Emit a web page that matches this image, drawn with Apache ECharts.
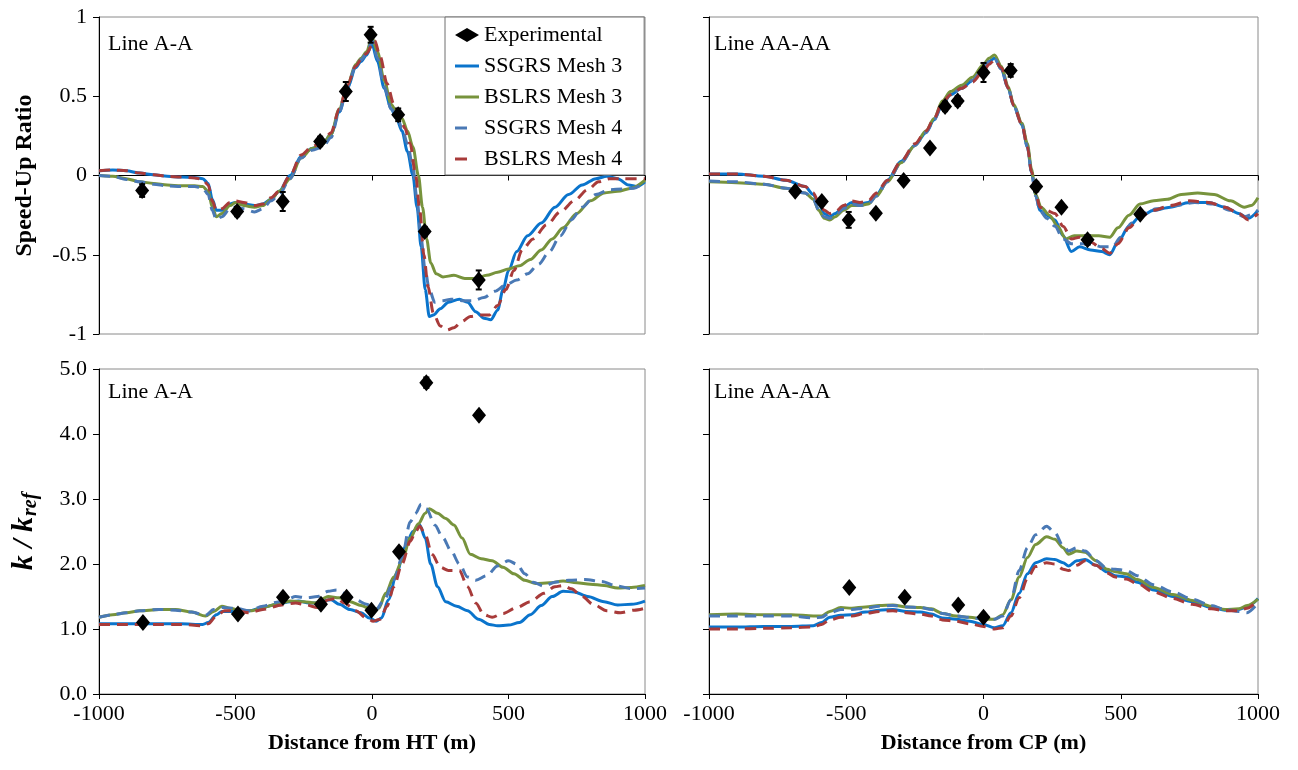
<!doctype html>
<html>
<head>
<meta charset="utf-8">
<title>Speed-up ratio and k/kref</title>
<script src="https://cdn.jsdelivr.net/npm/echarts@6/dist/echarts.min.js"></script>
<style>
  html, body { margin: 0; padding: 0; background: #fff; }
  #main { width: 1298px; height: 770px; }
</style>
</head>
<body>
<div id="main"></div>
<script>
// ---- data: Line A-A speed-up ratio ----
var topA_exp = [[-842,-0.095],[-494,-0.227],[-327,-0.164],[-190,0.215],[-96,0.53],[-5,0.888],[96,0.383],[193,-0.354],[391,-0.659]];
var topA_err = [0.04,0.03,0.06,0.03,0.06,0.05,0.04,0.03,0.06];
var topA_ssg3 = [[-1000,0.03],[-950,0.035],[-900,0.03],[-850,0.015],[-800,0.005],[-750,-0.005],[-700,-0.01],[-650,-0.012],[-620,-0.02],[-600,-0.05],[-585,-0.15],[-570,-0.22],[-550,-0.22],[-520,-0.18],[-500,-0.17],[-470,-0.18],[-430,-0.19],[-400,-0.18],[-370,-0.15],[-340,-0.1],[-300,0.0],[-260,0.12],[-220,0.17],[-180,0.2],[-150,0.26],[-120,0.4],[-90,0.55],[-60,0.68],[-40,0.72],[-20,0.76],[0,0.83],[20,0.72],[45,0.55],[70,0.42],[90,0.36],[110,0.28],[130,0.15],[150,0.0],[165,-0.2],[180,-0.45],[195,-0.72],[210,-0.89],[225,-0.88],[250,-0.84],[280,-0.8],[320,-0.78],[350,-0.8],[380,-0.86],[410,-0.9],[435,-0.91],[460,-0.85],[480,-0.72],[500,-0.6],[530,-0.48],[570,-0.38],[620,-0.3],[670,-0.2],[720,-0.12],[770,-0.06],[820,-0.02],[860,-0.005],[900,-0.02],[940,-0.06],[970,-0.07],[1000,-0.04]];
var topA_bsl3 = [[-1000,0.0],[-950,-0.005],[-900,-0.02],[-850,-0.04],[-800,-0.05],[-750,-0.06],[-700,-0.065],[-650,-0.065],[-620,-0.07],[-600,-0.1],[-585,-0.2],[-570,-0.26],[-550,-0.24],[-520,-0.19],[-500,-0.17],[-470,-0.19],[-430,-0.2],[-400,-0.19],[-370,-0.15],[-340,-0.1],[-300,-0.02],[-260,0.11],[-220,0.17],[-180,0.2],[-150,0.26],[-120,0.42],[-90,0.57],[-60,0.7],[-40,0.74],[-20,0.78],[0,0.87],[20,0.78],[45,0.6],[70,0.45],[90,0.4],[110,0.36],[130,0.28],[150,0.18],[170,0.0],[185,-0.2],[200,-0.4],[215,-0.55],[235,-0.62],[260,-0.64],[300,-0.63],[340,-0.65],[380,-0.65],[420,-0.63],[460,-0.61],[500,-0.59],[540,-0.57],[580,-0.53],[620,-0.47],[660,-0.4],[700,-0.33],[750,-0.24],[800,-0.16],[850,-0.11],[900,-0.1],[950,-0.08],[1000,-0.03]];
var topA_ssg4 = [[-1000,0.0],[-950,-0.005],[-900,-0.025],[-850,-0.04],[-800,-0.055],[-750,-0.065],[-700,-0.07],[-650,-0.07],[-620,-0.08],[-600,-0.12],[-585,-0.22],[-570,-0.28],[-550,-0.26],[-520,-0.21],[-500,-0.2],[-470,-0.21],[-430,-0.23],[-400,-0.21],[-370,-0.16],[-340,-0.12],[-300,-0.02],[-260,0.11],[-220,0.16],[-180,0.18],[-150,0.24],[-120,0.4],[-90,0.56],[-60,0.69],[-40,0.73],[-20,0.77],[0,0.85],[20,0.74],[45,0.56],[70,0.42],[90,0.38],[110,0.3],[130,0.2],[150,0.05],[165,-0.15],[180,-0.4],[195,-0.6],[210,-0.72],[230,-0.8],[260,-0.79],[290,-0.78],[330,-0.79],[370,-0.79],[410,-0.77],[450,-0.73],[490,-0.69],[530,-0.66],[570,-0.62],[610,-0.56],[650,-0.48],[690,-0.38],[730,-0.28],[770,-0.2],[820,-0.12],[870,-0.09],[920,-0.085],[960,-0.08],[1000,-0.04]];
var topA_bsl4 = [[-1000,0.03],[-950,0.035],[-900,0.03],[-850,0.015],[-800,0.005],[-750,-0.005],[-700,-0.01],[-650,-0.015],[-620,-0.025],[-600,-0.06],[-585,-0.16],[-570,-0.22],[-550,-0.21],[-520,-0.17],[-500,-0.16],[-470,-0.17],[-430,-0.19],[-400,-0.18],[-370,-0.14],[-340,-0.1],[-300,0.0],[-260,0.13],[-220,0.18],[-180,0.22],[-150,0.27],[-120,0.42],[-90,0.57],[-60,0.69],[-40,0.73],[-20,0.77],[0,0.82],[10,0.85],[30,0.75],[55,0.58],[80,0.45],[100,0.4],[120,0.3],[140,0.2],[160,0.0],[175,-0.22],[190,-0.5],[205,-0.7],[225,-0.87],[250,-0.95],[275,-0.975],[300,-0.96],[330,-0.92],[360,-0.89],[400,-0.88],[430,-0.88],[460,-0.82],[490,-0.72],[520,-0.6],[550,-0.47],[590,-0.4],[640,-0.31],[690,-0.23],[740,-0.16],[790,-0.09],[830,-0.04],[870,-0.02],[920,-0.02],[1000,-0.02]];

// ---- data: Line AA-AA speed-up ratio ----
var topAA_exp = [[-686,-0.10],[-589,-0.164],[-491,-0.28],[-392,-0.238],[-291,-0.032],[-195,0.173],[-140,0.436],[-94,0.47],[0,0.65],[99,0.663],[192,-0.07],[284,-0.2],[379,-0.406],[571,-0.244]];
var topAA_err = [0.02,0.02,0.05,0.02,0.02,0.02,0.03,0.03,0.06,0.04,0.03,0.02,0.03,0.02];
var topAA_ssg3 = [[-1000,0.01],[-900,0.01],[-800,-0.005],[-720,-0.03],[-650,-0.07],[-620,-0.12],[-600,-0.18],[-580,-0.24],[-560,-0.26],[-540,-0.24],[-510,-0.2],[-480,-0.17],[-450,-0.18],[-420,-0.17],[-390,-0.12],[-350,-0.03],[-300,0.09],[-250,0.19],[-210,0.27],[-180,0.35],[-150,0.45],[-120,0.51],[-80,0.55],[-40,0.6],[0,0.68],[20,0.72],[40,0.74],[65,0.67],[90,0.55],[110,0.44],[140,0.32],[160,0.18],[175,0.02],[190,-0.12],[205,-0.22],[230,-0.25],[260,-0.28],[290,-0.38],[320,-0.48],[350,-0.45],[390,-0.47],[430,-0.48],[460,-0.5],[490,-0.42],[530,-0.32],[570,-0.26],[620,-0.22],[680,-0.2],[750,-0.17],[820,-0.17],[880,-0.2],[930,-0.24],[965,-0.27],[1000,-0.22]];
var topAA_bsl3 = [[-1000,-0.04],[-900,-0.045],[-800,-0.055],[-720,-0.08],[-650,-0.11],[-620,-0.15],[-600,-0.22],[-580,-0.27],[-560,-0.28],[-540,-0.26],[-510,-0.22],[-480,-0.19],[-450,-0.19],[-420,-0.18],[-390,-0.13],[-350,-0.04],[-300,0.08],[-250,0.19],[-210,0.28],[-180,0.36],[-150,0.47],[-120,0.53],[-80,0.57],[-40,0.62],[0,0.7],[20,0.74],[40,0.76],[65,0.69],[90,0.56],[110,0.45],[140,0.33],[160,0.2],[175,0.04],[190,-0.12],[210,-0.2],[240,-0.25],[270,-0.32],[300,-0.4],[330,-0.38],[370,-0.38],[420,-0.38],[460,-0.39],[490,-0.33],[530,-0.25],[570,-0.18],[620,-0.16],[670,-0.15],[720,-0.12],[780,-0.11],[840,-0.12],[900,-0.16],[950,-0.2],[975,-0.19],[1000,-0.14]];
var topAA_ssg4 = [[-1000,-0.035],[-900,-0.04],[-800,-0.055],[-720,-0.08],[-650,-0.11],[-620,-0.15],[-600,-0.22],[-580,-0.26],[-560,-0.27],[-540,-0.25],[-510,-0.21],[-480,-0.18],[-450,-0.19],[-420,-0.18],[-390,-0.13],[-350,-0.04],[-300,0.08],[-250,0.19],[-210,0.27],[-180,0.35],[-150,0.45],[-120,0.51],[-80,0.55],[-40,0.6],[0,0.68],[20,0.72],[40,0.74],[65,0.67],[90,0.55],[110,0.44],[140,0.32],[160,0.18],[175,0.02],[190,-0.13],[205,-0.22],[230,-0.27],[260,-0.32],[290,-0.4],[320,-0.43],[350,-0.43],[390,-0.43],[430,-0.45],[470,-0.45],[500,-0.39],[540,-0.3],[580,-0.24],[630,-0.21],[700,-0.19],[770,-0.17],[840,-0.18],[900,-0.22],[950,-0.26],[1000,-0.22]];
var topAA_bsl4 = [[-1000,0.01],[-900,0.01],[-800,-0.005],[-720,-0.03],[-650,-0.07],[-620,-0.11],[-600,-0.17],[-580,-0.22],[-560,-0.24],[-540,-0.23],[-510,-0.19],[-480,-0.16],[-450,-0.17],[-420,-0.16],[-390,-0.11],[-350,-0.03],[-300,0.09],[-250,0.2],[-210,0.28],[-180,0.36],[-150,0.46],[-120,0.51],[-80,0.55],[-40,0.59],[0,0.66],[20,0.7],[40,0.73],[65,0.68],[90,0.55],[110,0.44],[140,0.32],[160,0.18],[175,0.02],[190,-0.1],[205,-0.2],[230,-0.22],[260,-0.24],[290,-0.32],[320,-0.4],[350,-0.39],[390,-0.42],[430,-0.46],[460,-0.49],[490,-0.43],[530,-0.33],[570,-0.26],[620,-0.22],[680,-0.19],[750,-0.16],[820,-0.17],[880,-0.2],[930,-0.24],[965,-0.28],[1000,-0.24]];

// ---- data: Line A-A k/kref ----
var botA_exp = [[-839,1.10],[-491,1.23],[-326,1.49],[-187,1.38],[-93,1.49],[-2,1.29],[99,2.19],[199,4.79],[392,4.29]];
var botA_err = [0.05,0.04,0.04,0.03,0.05,0.04,0.03,0.08,0.06];
var botA_ssg3 = [[-1000,1.08],[-900,1.08],[-800,1.08],[-700,1.08],[-620,1.07],[-600,1.1],[-570,1.22],[-550,1.27],[-500,1.27],[-450,1.28],[-400,1.33],[-350,1.38],[-300,1.42],[-270,1.43],[-230,1.4],[-200,1.4],[-170,1.44],[-150,1.45],[-120,1.38],[-80,1.3],[-40,1.25],[-10,1.17],[15,1.12],[35,1.17],[60,1.45],[90,1.85],[120,2.25],[150,2.5],[175,2.6],[195,2.4],[215,2.0],[240,1.65],[270,1.42],[310,1.35],[350,1.28],[390,1.15],[430,1.07],[460,1.05],[500,1.06],[540,1.1],[580,1.22],[620,1.36],[660,1.5],[700,1.58],[740,1.57],[790,1.5],[850,1.42],[900,1.37],[950,1.38],[1000,1.43]];
var botA_bsl3 = [[-1000,1.18],[-950,1.22],[-900,1.25],[-850,1.28],[-780,1.3],[-720,1.3],[-660,1.26],[-610,1.2],[-580,1.27],[-550,1.35],[-520,1.32],[-480,1.28],[-440,1.28],[-400,1.33],[-350,1.38],[-300,1.43],[-250,1.42],[-210,1.4],[-160,1.5],[-120,1.48],[-80,1.42],[-40,1.36],[0,1.3],[25,1.32],[50,1.55],[80,1.8],[110,2.05],[140,2.4],[170,2.62],[195,2.78],[210,2.85],[240,2.78],[270,2.7],[300,2.6],[330,2.4],[360,2.15],[400,2.08],[440,2.05],[480,1.95],[520,1.85],[560,1.75],[600,1.7],[650,1.71],[700,1.74],[750,1.71],[800,1.69],[850,1.67],[900,1.63],[950,1.64],[1000,1.67]];
var botA_ssg4 = [[-1000,1.18],[-950,1.22],[-900,1.25],[-850,1.28],[-780,1.3],[-720,1.29],[-660,1.26],[-610,1.21],[-580,1.3],[-550,1.33],[-500,1.32],[-450,1.28],[-400,1.35],[-350,1.41],[-310,1.46],[-280,1.5],[-240,1.48],[-200,1.5],[-160,1.58],[-130,1.6],[-100,1.55],[-60,1.45],[-20,1.38],[15,1.3],[45,1.45],[80,1.75],[110,2.1],[140,2.65],[160,2.78],[180,2.92],[200,2.85],[230,2.6],[260,2.4],[290,2.2],[320,2.0],[350,1.8],[380,1.75],[420,1.82],[460,1.97],[500,2.05],[530,2.0],[560,1.85],[590,1.72],[630,1.66],[670,1.72],[720,1.75],[780,1.76],[840,1.73],[900,1.66],[950,1.62],[1000,1.63]];
var botA_bsl4 = [[-1000,1.07],[-900,1.07],[-800,1.07],[-700,1.07],[-620,1.05],[-600,1.08],[-570,1.2],[-540,1.28],[-500,1.28],[-450,1.25],[-400,1.3],[-330,1.37],[-280,1.4],[-240,1.37],[-200,1.33],[-160,1.45],[-130,1.47],[-100,1.4],[-60,1.28],[-20,1.17],[5,1.12],[30,1.15],[55,1.35],[80,1.65],[110,2.0],[140,2.35],[160,2.5],[175,2.58],[195,2.45],[220,2.15],[250,1.95],[280,1.9],[320,1.9],[350,1.65],[380,1.4],[410,1.22],[440,1.18],[480,1.24],[530,1.33],[580,1.42],[630,1.55],[670,1.65],[700,1.67],[730,1.62],[770,1.5],[810,1.38],[860,1.28],[910,1.25],[960,1.29],[1000,1.32]];

// ---- data: Line AA-AA k/kref ----
var botAA_exp = [[-489,1.64],[-287,1.49],[-92,1.37],[0,1.18]];
var botAA_err = [0.03,0.03,0.03,0.03];
var botAA_ssg3 = [[-1000,1.03],[-900,1.03],[-800,1.04],[-700,1.04],[-620,1.05],[-590,1.1],[-560,1.18],[-520,1.21],[-480,1.22],[-430,1.26],[-380,1.29],[-330,1.3],[-280,1.27],[-230,1.26],[-190,1.23],[-150,1.17],[-100,1.15],[-50,1.12],[0,1.07],[40,1.02],[70,1.05],[100,1.25],[130,1.55],[160,1.85],[190,2.02],[230,2.08],[260,2.07],[290,2.02],[310,1.97],[340,2.05],[370,2.07],[410,1.98],[450,1.88],[480,1.82],[520,1.8],[560,1.72],[620,1.6],[690,1.5],[760,1.42],[830,1.33],[880,1.29],[930,1.3],[960,1.34],[1000,1.47]];
var botAA_bsl3 = [[-1000,1.22],[-900,1.23],[-800,1.22],[-700,1.22],[-620,1.2],[-590,1.2],[-560,1.27],[-520,1.33],[-480,1.32],[-430,1.34],[-380,1.36],[-330,1.37],[-280,1.34],[-230,1.33],[-190,1.31],[-150,1.24],[-100,1.2],[-50,1.18],[0,1.15],[40,1.15],[70,1.22],[100,1.45],[130,1.8],[160,2.1],[190,2.3],[230,2.42],[260,2.38],[290,2.25],[310,2.15],[340,2.2],[370,2.18],[410,2.05],[450,1.92],[480,1.88],[520,1.85],[560,1.76],[620,1.64],[690,1.53],[760,1.44],[830,1.35],[880,1.3],[930,1.31],[960,1.36],[1000,1.46]];
var botAA_ssg4 = [[-1000,1.2],[-900,1.2],[-800,1.2],[-700,1.2],[-620,1.17],[-590,1.18],[-560,1.25],[-520,1.3],[-480,1.3],[-430,1.32],[-380,1.35],[-330,1.36],[-280,1.34],[-230,1.33],[-190,1.3],[-150,1.24],[-100,1.2],[-50,1.18],[0,1.15],[40,1.15],[70,1.2],[100,1.45],[130,1.9],[160,2.25],[190,2.45],[230,2.58],[260,2.48],[290,2.28],[310,2.2],[340,2.25],[370,2.2],[410,2.05],[450,1.93],[480,1.92],[520,1.9],[560,1.82],[620,1.68],[690,1.57],[760,1.46],[830,1.36],[880,1.3],[930,1.27],[960,1.25],[1000,1.4]];
var botAA_bsl4 = [[-1000,1.0],[-900,1.0],[-800,1.01],[-700,1.02],[-620,1.03],[-590,1.07],[-560,1.14],[-520,1.18],[-480,1.2],[-430,1.24],[-380,1.27],[-330,1.28],[-280,1.25],[-230,1.23],[-190,1.2],[-150,1.14],[-100,1.12],[-50,1.08],[0,1.04],[40,1.0],[70,1.02],[100,1.2],[130,1.48],[160,1.78],[190,1.96],[230,2.02],[260,2.0],[290,1.92],[310,1.9],[340,1.98],[370,2.05],[410,1.98],[450,1.86],[480,1.8],[520,1.77],[560,1.7],[620,1.57],[690,1.47],[760,1.38],[830,1.31],[880,1.28],[930,1.28],[960,1.32],[1000,1.45]];

var names = ['Experimental', 'SSGRS Mesh 3', 'BSLRS Mesh 3', 'SSGRS Mesh 4', 'BSLRS Mesh 4'];
var serif = "'Liberation Serif', 'Times New Roman', serif";

var chart = echarts.init(document.getElementById('main'));

var grids = [
  { left: 99, top: 17, width: 546, height: 317 },
  { left: 709, top: 17, width: 549, height: 317 },
  { left: 99, top: 369, width: 546, height: 325 },
  { left: 709, top: 369, width: 549, height: 325 }
];
grids.forEach(function (g) { g.show = true; g.borderColor = '#8a8a8a'; g.borderWidth = 1; g.backgroundColor = 'transparent'; });

function xAxisOf(i, bottom, title) {
  return {
    type: 'value', gridIndex: i, min: -1000, max: 1000, interval: 500,
    axisLine: { show: true, onZero: !bottom, lineStyle: { color: '#000', width: 1 } },
    axisTick: { show: true, length: 5, lineStyle: { color: '#000' } },
    axisLabel: { show: bottom, fontFamily: serif, fontSize: 22, color: '#000', margin: 9,
      formatter: function (v) { return String(v); } },
    splitLine: { show: false },
    name: title || '', nameLocation: 'middle', nameGap: 38,
    nameTextStyle: { fontFamily: serif, fontSize: 22, fontWeight: 'bold', color: '#000' }
  };
}
function yAxisOf(i, top, labels) {
  return {
    type: 'value', gridIndex: i,
    min: top ? -1 : 0, max: top ? 1 : 5, interval: top ? 0.5 : 1,
    axisLine: { show: true, onZero: false, lineStyle: { color: '#000', width: 1 } },
    axisTick: { show: true, length: 6, lineStyle: { color: '#000' } },
    axisLabel: { show: labels, fontFamily: serif, fontSize: 22, color: '#000', margin: 12,
      formatter: top ? function (v) { return String(v); } : function (v) { return v.toFixed(1); } },
    splitLine: { show: false }
  };
}

var yAxes = [yAxisOf(0, true, true), yAxisOf(1, true, false), yAxisOf(2, false, true), yAxisOf(3, false, false)];
yAxes[0].name = 'Speed-Up Ratio';
yAxes[0].nameLocation = 'middle';
yAxes[0].nameGap = 62;
yAxes[0].nameTextStyle = { fontFamily: serif, fontSize: 24, fontWeight: 'bold', color: '#000' };
yAxes[2].name = '{k|k / k}{s|ref}';
yAxes[2].nameLocation = 'middle';
yAxes[2].nameGap = 58;
yAxes[2].nameTextStyle = {
  rich: {
    k: { fontFamily: serif, fontSize: 30, fontWeight: 'bold', fontStyle: 'italic', color: '#000', lineHeight: 34 },
    s: { fontFamily: serif, fontSize: 20, fontWeight: 'bold', fontStyle: 'italic', color: '#000', verticalAlign: 'bottom', lineHeight: 34, padding: [0, 0, 0, 1] }
  }
};

var lineStyles = [
  { color: '#0a74cc', type: 'solid' },
  { color: '#77933c', type: 'solid' },
  { color: '#4a79b5', type: [11, 7] },
  { color: '#a83b3a', type: [11, 7] }
];
// legend glyphs: a long bar for solid lines, a single short dash for dashed ones
var solidIcon = 'path://M0,0H24V3H0Z';
var dashIcon = 'path://M0,0H12V3H0Z M24,0L24,0';

function panelSeries(idx, exp, err, lines) {
  var out = [];
  lines.forEach(function (d, k) {
    out.push({
      name: names[k + 1], type: 'line', xAxisIndex: idx, yAxisIndex: idx,
      data: d, smooth: 0.3, smoothMonotone: 'x', symbol: 'none', clip: true,
      lineStyle: { color: lineStyles[k].color, type: lineStyles[k].type, width: 3 },
      itemStyle: { color: lineStyles[k].color }, z: 2 + k
    });
  });
  out.push({
    name: 'err' + idx, type: 'custom', xAxisIndex: idx, yAxisIndex: idx, z: 9,
    data: exp.map(function (p, i) { return [p[0], p[1] - err[i], p[1] + err[i]]; }),
    encode: { x: 0, y: [1, 2] },
    renderItem: function (params, api) {
      var lo = api.coord([api.value(0), api.value(1)]);
      var hi = api.coord([api.value(0), api.value(2)]);
      var st = { stroke: '#000', lineWidth: 2 };
      return { type: 'group', children: [
        { type: 'line', shape: { x1: lo[0], y1: lo[1], x2: hi[0], y2: hi[1] }, style: st },
        { type: 'line', shape: { x1: lo[0] - 3, y1: lo[1], x2: lo[0] + 3, y2: lo[1] }, style: st },
        { type: 'line', shape: { x1: hi[0] - 3, y1: hi[1], x2: hi[0] + 3, y2: hi[1] }, style: st }
      ] };
    }
  });
  out.push({
    name: names[0], type: 'scatter', xAxisIndex: idx, yAxisIndex: idx, z: 10,
    data: exp, symbol: 'diamond', symbolSize: [14, 17],
    itemStyle: { color: '#000', opacity: 1 }
  });
  return out;
}

var series = [].concat(
  panelSeries(0, topA_exp, topA_err, [topA_ssg3, topA_bsl3, topA_ssg4, topA_bsl4]),
  panelSeries(1, topAA_exp, topAA_err, [topAA_ssg3, topAA_bsl3, topAA_ssg4, topAA_bsl4]),
  panelSeries(2, botA_exp, botA_err, [botA_ssg3, botA_bsl3, botA_ssg4, botA_bsl4]),
  panelSeries(3, botAA_exp, botAA_err, [botAA_ssg3, botAA_bsl3, botAA_ssg4, botAA_bsl4])
);

function panelTitle(text, left, top) {
  return { text: text, left: left, top: top, padding: 0,
    textStyle: { fontFamily: serif, fontSize: 22, fontWeight: 'normal', color: '#000' } };
}

var option = {
  animation: false,
  backgroundColor: '#fff',
  title: [
    panelTitle('Line A-A', 108, 33),
    panelTitle('Line AA-AA', 714, 33),
    panelTitle('Line A-A', 108, 381),
    panelTitle('Line AA-AA', 714, 381)
  ],
  legend: {
    data: [
      { name: names[0], icon: 'diamond', itemStyle: { color: '#000', opacity: 1 } },
      { name: names[1], icon: solidIcon, itemStyle: { color: lineStyles[0].color } },
      { name: names[2], icon: solidIcon, itemStyle: { color: lineStyles[1].color } },
      { name: names[3], icon: dashIcon, itemStyle: { color: lineStyles[2].color } },
      { name: names[4], icon: dashIcon, itemStyle: { color: lineStyles[3].color } }
    ],
    orient: 'vertical', left: 445, top: 17,
    backgroundColor: '#fff', borderColor: '#6e6e6e', borderWidth: 1,
    padding: [7, 22, 5, 10], itemGap: 9, itemWidth: 24, itemHeight: 14,
    textStyle: { fontFamily: serif, fontSize: 22, color: '#000', lineHeight: 22 },
    z: 20
  },
  grid: grids,
  xAxis: [xAxisOf(0, false), xAxisOf(1, false), xAxisOf(2, true, 'Distance from HT (m)'), xAxisOf(3, true, 'Distance from CP (m)')],
  yAxis: yAxes,
  series: series
};

chart.setOption(option);
</script>
</body>
</html>
